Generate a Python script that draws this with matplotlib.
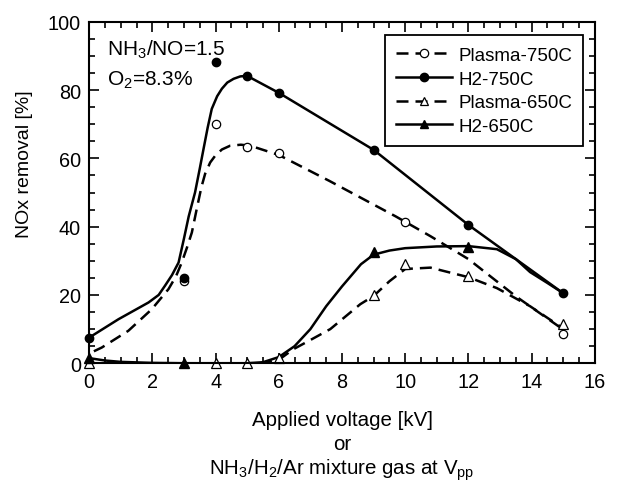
import matplotlib
matplotlib.use('Agg')
import matplotlib.pyplot as plt
from matplotlib.lines import Line2D
from matplotlib.ticker import MultipleLocator

plt.rcParams['font.family'] = ['Liberation Sans', 'DejaVu Sans']
plt.rcParams['mathtext.fontset'] = 'custom'
plt.rcParams['mathtext.rm'] = 'Liberation Sans'

# measured points (markers)
plasma750_x = [3, 4, 5, 6, 10, 15]
plasma750_y = [24, 70, 63.3, 61.5, 41.5, 8.5]
h2_750_x = [0, 3, 4, 5, 6, 9, 12, 15]
h2_750_y = [7.5, 25, 88.3, 84, 79.2, 62.5, 40.5, 20.5]
plasma650_x = [0, 4, 5, 6, 9, 10, 12, 15]
plasma650_y = [0, 0, 0, 1.5, 20, 29, 25.5, 11.5]
h2_650_x = [0, 3, 9, 12]
h2_650_y = [1.5, 0, 32.5, 34]

# hand-drawn guide curves
plasma750_cx = [0.15, 0.4, 1.24, 1.98, 2.51, 2.75, 2.93, 3.1, 3.25, 3.4, 3.55, 3.67, 3.83, 3.99, 4.2, 4.46,
                4.8, 5.1, 6, 7.6, 9.7, 10.8, 12, 13.5, 14.9]
plasma750_cy = [3.5, 4.6, 9.5, 15.8, 21.7, 25.5, 29.5, 34, 38.3, 45, 51.5, 55.5, 58.8, 60.8, 62.6, 63.7,
                64, 63.7, 61, 53.4, 43, 37.2, 30.5, 19.6, 10.5]
h2_750_cx = [0, 0.93, 1.88, 2.2, 2.4, 2.62, 2.83, 3.0, 3.15, 3.35, 3.5, 3.62, 3.75, 3.88, 4.05, 4.2, 4.37,
             4.57, 4.78, 4.99, 6, 9, 12, 15]
h2_750_cy = [7.5, 12.9, 17.8, 20, 22.7, 25.8, 29.5, 36.5, 43, 50, 57, 62.8, 69, 74.5, 78.2, 80.4, 82.2,
             83.3, 84, 84.2, 79.2, 62.5, 40.5, 20.5]
plasma650_cx = [0, 5.5, 6, 6.46, 7, 7.63, 8.58, 9, 9.5, 10, 10.8, 12, 12.9, 13.95, 14.9]
plasma650_cy = [0, 0, 1, 4.1, 6.8, 10, 17.3, 19.7, 24, 27.6, 28, 25.2, 22, 16.7, 10.8]
h2_650_cx = [0, 0.5, 1, 2, 3, 5, 5.5, 6, 6.5, 7, 7.5, 8, 8.6, 9, 9.5, 10, 11, 12, 12.9, 13.5, 13.95, 14.5, 15]
h2_650_cy = [1.5, 0.8, 0.4, 0.1, 0, 0, 0.3, 1.8, 5, 10, 16.7, 22.5, 29, 31.8, 33, 33.7, 34.2, 34.3, 33.4,
             30.5, 26.7, 23.5, 20.5]

labels = ['Plasma-750C', 'H2-750C', 'Plasma-650C', 'H2-650C']

fig = plt.figure(figsize=(6.19, 4.85), dpi=100)
ax = fig.add_axes([0.144, 0.249, 0.817, 0.704])

lw = 1.8
dash = (4.8, 2.8)
ax.plot(plasma750_cx, plasma750_cy, color='k', lw=lw, ls='--', dashes=dash)
ax.plot(h2_750_cx, h2_750_cy, color='k', lw=lw)
ax.plot(plasma650_cx, plasma650_cy, color='k', lw=lw, ls='--', dashes=dash)
ax.plot(h2_650_cx, h2_650_cy, color='k', lw=lw)

ms = 6
ax.plot(plasma750_x, plasma750_y, ls='none', marker='o', ms=ms, mfc='white', mec='k', mew=0.9, clip_on=False)
ax.plot(h2_750_x, h2_750_y, ls='none', marker='o', ms=ms, mfc='k', mec='k', clip_on=False)
ax.plot(plasma650_x, plasma650_y, ls='none', marker='^', ms=ms + 1, mfc='white', mec='k', mew=0.9, clip_on=False)
ax.plot(h2_650_x, h2_650_y, ls='none', marker='^', ms=ms + 1, mfc='k', mec='k', clip_on=False)

ax.set_xlim(0, 16)
ax.set_ylim(0, 100)
ax.xaxis.set_major_locator(MultipleLocator(2))
ax.xaxis.set_minor_locator(MultipleLocator(0.5))
ax.yaxis.set_major_locator(MultipleLocator(20))
ax.yaxis.set_minor_locator(MultipleLocator(5))
ax.tick_params(which='both', direction='in', top=True, right=True, labelsize=14.3, width=1.2)
ax.tick_params(which='major', length=7, pad=6)
ax.tick_params(which='minor', length=4)
for s in ax.spines.values():
    s.set_linewidth(1.5)

# y label sits a bit above the axes centre in the original
fig.text(25 / 619, 1 - 164 / 485, 'NOx removal [%]', rotation=90, ha='center', va='center', fontsize=14)

ax.text(0.036, 0.921, r'NH$_3$/NO=1.5', transform=ax.transAxes, fontsize=15, va='center')
ax.text(0.036, 0.833, r'O$_2$=8.3%', transform=ax.transAxes, fontsize=15, va='center')

fig.text(342 / 619, 1 - 420 / 485, 'Applied voltage [kV]', ha='center', va='center', fontsize=14.8)
fig.text(342 / 619, 1 - 445 / 485, 'or', ha='center', va='center', fontsize=14.8)
fig.text(342 / 619, 1 - 470 / 485, r'NH$_3$/H$_2$/Ar mixture gas at V$_{\rm pp}$', ha='center', va='center', fontsize=14.8)

handles = [
    Line2D([], [], color='k', lw=lw, ls='--', dashes=dash, marker='o', ms=ms, mfc='white', mec='k', mew=0.9),
    Line2D([], [], color='k', lw=lw, marker='o', ms=ms, mfc='k', mec='k'),
    Line2D([], [], color='k', lw=lw, ls='--', dashes=dash, marker='^', ms=ms, mfc='white', mec='k', mew=0.9),
    Line2D([], [], color='k', lw=lw, marker='^', ms=ms, mfc='k', mec='k'),
]
leg = ax.legend(handles, labels, loc='upper right', bbox_to_anchor=(0.977, 0.96), borderaxespad=0,
                fontsize=13.5, handlelength=3.0, labelspacing=0.35, handletextpad=0.3,
                borderpad=0.6, fancybox=False, framealpha=1, edgecolor='k')
leg.get_frame().set_linewidth(1.3)

fig.savefig('out.png', dpi=100)
